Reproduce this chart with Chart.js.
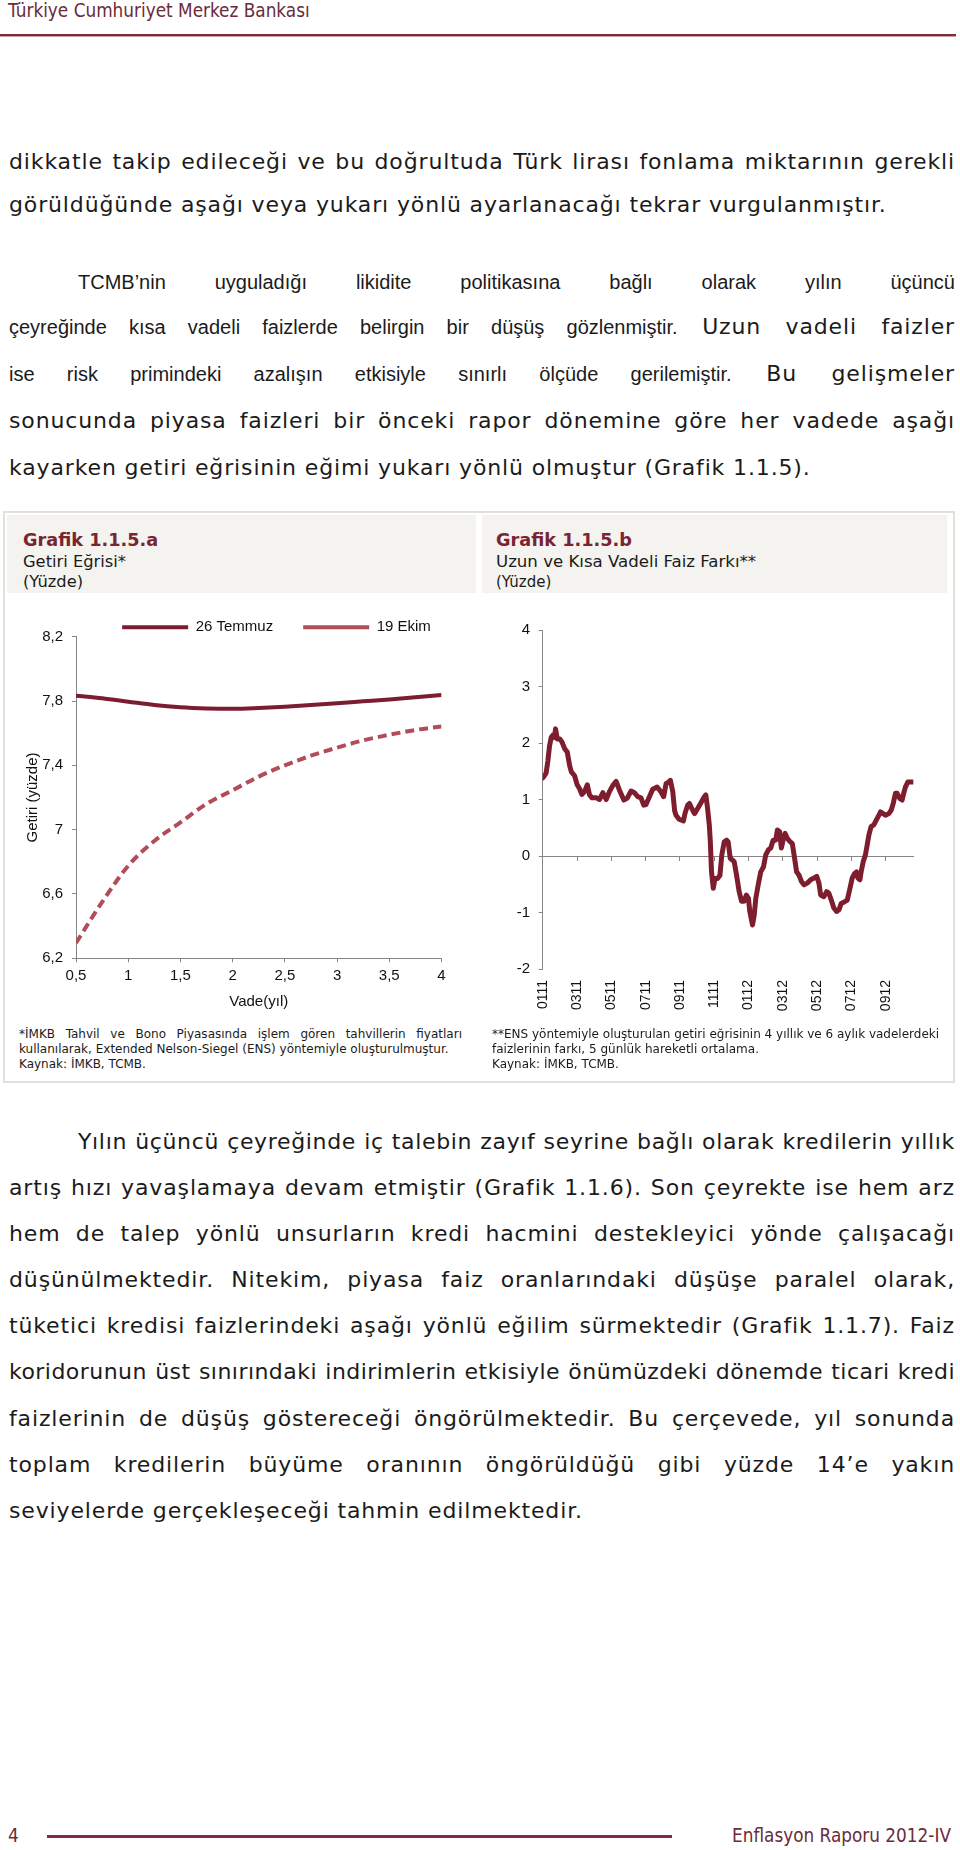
<!DOCTYPE html>
<html>
<head>
<meta charset="utf-8">
<script src="https://cdn.jsdelivr.net/npm/chart.js@4.4.1/dist/chart.umd.min.js"></script>
<style>
html,body{margin:0;padding:0;background:#fff;}
#page{position:relative;width:960px;height:1850px;overflow:hidden;font-family:"DejaVu Sans",sans-serif;color:#1b1b1b;}
.abs{position:absolute;}
.hdr{position:absolute;font-family:"DejaVu Sans Condensed","DejaVu Sans",sans-serif;font-size:18.8px;line-height:22px;color:#6a2c3b;white-space:nowrap;}
.hline{position:absolute;left:0;top:34px;width:956px;height:2px;background:#7a2d3c;box-shadow:0 1px 0 #c9a3aa;}
.ln{position:absolute;left:9px;width:946px;font-size:22px;letter-spacing:0.86px;line-height:30px;height:30px;overflow:hidden;}
.j{text-align:justify;text-align-last:justify;}
.ar{font-family:"Liberation Sans",Arial,sans-serif;font-size:20px;letter-spacing:0;}
.frame{position:absolute;left:3px;top:511px;width:948px;height:568px;border:2px solid #e1e0dc;}
.tbox{position:absolute;top:515px;height:78px;background:#f4f3ef;}
.tt{position:absolute;font-weight:bold;font-size:17.7px;line-height:20px;color:#7a2333;white-space:nowrap;}
.ts{position:absolute;font-size:16.3px;line-height:20px;color:#1b1b1b;white-space:nowrap;}
.fn{position:absolute;font-size:12px;line-height:15px;height:15px;overflow:hidden;color:#1b1b1b;}
canvas{position:absolute;}
.ftr{position:absolute;font-family:"DejaVu Sans Condensed","DejaVu Sans",sans-serif;font-size:18.8px;line-height:22px;color:#6a2c3b;white-space:nowrap;}
</style>
</head>
<body>
<div id="page">
  <div class="hdr" style="left:8px;top:0px;">Türkiye Cumhuriyet Merkez Bankası</div>
  <div class="hline"></div>

  <div class="ln j" style="top:147px;">dikkatle takip edileceği ve bu doğrultuda Türk lirası fonlama miktarının gerekli</div>
  <div class="ln" style="top:190px;">görüldüğünde aşağı veya yukarı yönlü ayarlanacağı tekrar vurgulanmıştır.</div>

  <div class="ln j ar" style="top:267px;left:78px;width:877px;">TCMB’nin uyguladığı likidite politikasına bağlı olarak yılın üçüncü</div>
  <div class="ln j" style="top:312px;"><span class="ar">çeyreğinde kısa vadeli faizlerde belirgin bir düşüş gözlenmiştir.</span> Uzun vadeli faizler</div>
  <div class="ln j" style="top:359px;"><span class="ar">ise risk primindeki azalışın etkisiyle sınırlı ölçüde gerilemiştir.</span> Bu gelişmeler</div>
  <div class="ln j" style="top:406px;">sonucunda piyasa faizleri bir önceki rapor dönemine göre her vadede aşağı</div>
  <div class="ln" style="top:453px;">kayarken getiri eğrisinin eğimi yukarı yönlü olmuştur (Grafik 1.1.5).</div>

  <div class="frame"></div>
  <div class="tbox" style="left:7px;width:469px;"></div>
  <div class="tbox" style="left:482px;width:465px;"></div>
  <div class="tt" style="left:23px;top:530px;">Grafik 1.1.5.a</div>
  <div class="ts" style="left:23px;top:552px;">Getiri Eğrisi*</div>
  <div class="ts" style="left:23px;top:572px;">(Yüzde)</div>
  <div class="tt" style="left:496px;top:530px;">Grafik 1.1.5.b</div>
  <div class="ts" style="left:496px;top:552px;font-size:16.6px;">Uzun ve Kısa Vadeli Faiz Farkı**</div>
  <div class="ts" style="left:496px;top:572px;font-size:15px;">(Yüzde)</div>

  <canvas id="c1" width="533" height="460" style="left:0;top:560px;"></canvas>
  <canvas id="c2" width="480" height="420" style="left:480px;top:600px;"></canvas>

  <div class="fn j" style="left:19px;width:443px;top:1027px;">*İMKB Tahvil ve Bono Piyasasında işlem gören tahvillerin fiyatları</div>
  <div class="fn" style="left:19px;width:443px;top:1042px;">kullanılarak, Extended Nelson-Siegel (ENS) yöntemiyle oluşturulmuştur.</div>
  <div class="fn" style="left:19px;width:443px;top:1057px;">Kaynak: İMKB, TCMB.</div>
  <div class="fn" style="left:492px;width:455px;top:1027px;">**ENS yöntemiyle oluşturulan getiri eğrisinin 4 yıllık ve 6 aylık vadelerdeki</div>
  <div class="fn" style="left:492px;width:455px;top:1042px;">faizlerinin farkı, 5 günlük hareketli ortalama.</div>
  <div class="fn" style="left:492px;width:455px;top:1057px;">Kaynak: İMKB, TCMB.</div>

  <div class="ln j" style="top:1127px;left:78px;width:877px;">Yılın üçüncü çeyreğinde iç talebin zayıf seyrine bağlı olarak kredilerin yıllık</div>
  <div class="ln j" style="top:1173px;">artış hızı yavaşlamaya devam etmiştir (Grafik 1.1.6). Son çeyrekte ise hem arz</div>
  <div class="ln j" style="top:1219px;">hem de talep yönlü unsurların kredi hacmini destekleyici yönde çalışacağı</div>
  <div class="ln j" style="top:1265px;">düşünülmektedir. Nitekim, piyasa faiz oranlarındaki düşüşe paralel olarak,</div>
  <div class="ln j" style="top:1311px;">tüketici kredisi faizlerindeki aşağı yönlü eğilim sürmektedir (Grafik 1.1.7). Faiz</div>
  <div class="ln j" style="top:1357px;">koridorunun üst sınırındaki indirimlerin etkisiyle önümüzdeki dönemde ticari kredi</div>
  <div class="ln j" style="top:1404px;">faizlerinin de düşüş göstereceği öngörülmektedir. Bu çerçevede, yıl sonunda</div>
  <div class="ln j" style="top:1450px;">toplam kredilerin büyüme oranının öngörüldüğü gibi yüzde 14’e yakın</div>
  <div class="ln" style="top:1496px;">seviyelerde gerçekleşeceği tahmin edilmektedir.</div>

  <div class="ftr" style="left:8px;top:1825px;">4</div>
  <div class="abs" style="left:47px;top:1835px;width:625px;height:3px;background:#7a2d3c;"></div>
  <div class="ftr" style="right:9px;top:1825px;">Enflasyon Raporu 2012-IV</div>
</div>

<script>
// ---------- Grafik 1.1.5.a : yield curves ----------
const maturities   = [0.5, 0.75, 1, 1.25, 1.5, 1.75, 2, 2.25, 2.5, 2.75, 3, 3.25, 3.5, 3.75, 4];
const yieldJul26   = [7.833, 7.817, 7.796, 7.775, 7.761, 7.754, 7.752, 7.757, 7.765, 7.775, 7.786, 7.798, 7.810, 7.823, 7.837];
const yieldOct19   = [6.295, 6.55, 6.775, 6.93, 7.045, 7.16, 7.245, 7.33, 7.40, 7.46, 7.51, 7.555, 7.59, 7.62, 7.642];
const curveXTicks  = [0.5, 1, 1.5, 2, 2.5, 3, 3.5, 4];
const curveXLabels = ['0,5', '1', '1,5', '2', '2,5', '3', '3,5', '4'];
const curveYTicks  = [6.2, 6.6, 7.0, 7.4, 7.8, 8.2];
const curveYLabels = ['6,2', '6,6', '7', '7,4', '7,8', '8,2'];

// ---------- Grafik 1.1.5.b : long-short spread (months since Jan 2011) ----------
const spreadMonths = [0.0,0.1,0.2,0.3,0.4,0.5,0.6,0.68,0.75,0.85,1.0,1.12,1.28,1.43,1.57,1.67,1.86,2.01,2.15,2.28,2.44,2.6,2.73,2.87,3.12,3.31,3.51,3.7,3.89,4.09,4.28,4.48,4.73,4.92,5.15,5.35,5.54,5.73,5.89,6.02,6.22,6.41,6.67,6.86,7.05,7.19,7.34,7.44,7.58,7.69,7.77,7.95,8.2,8.3,8.45,8.55,8.74,8.85,9.03,9.2,9.42,9.51,9.61,9.71,9.77,9.84,9.94,10.04,10.19,10.33,10.44,10.58,10.72,10.81,10.93,11.05,11.16,11.3,11.45,11.59,11.74,11.87,11.99,12.07,12.23,12.33,12.42,12.56,12.71,12.87,13.0,13.16,13.29,13.43,13.58,13.68,13.81,13.91,14.01,14.13,14.26,14.4,14.55,14.65,14.8,14.94,15.08,15.23,15.42,15.62,15.81,15.97,16.1,16.2,16.39,16.55,16.68,16.82,16.97,17.13,17.27,17.4,17.6,17.75,17.91,18.04,18.18,18.29,18.37,18.49,18.56,18.68,18.81,18.91,19.01,19.14,19.3,19.45,19.59,19.69,19.84,19.98,20.17,20.31,20.43,20.56,20.66,20.81,20.95,21.04,21.14,21.28,21.47,21.59];
const spreadValues = [1.38,1.42,1.47,1.68,1.95,2.10,2.14,2.10,2.25,2.07,2.07,2.02,1.90,1.84,1.60,1.49,1.42,1.26,1.19,1.09,1.14,1.26,1.08,1.03,1.03,1.00,1.12,1.00,1.14,1.25,1.32,1.16,0.99,1.02,1.15,1.12,1.05,1.03,0.90,0.91,1.05,1.18,1.22,1.15,1.05,1.28,1.31,1.34,1.14,0.80,0.72,0.65,0.62,0.76,0.90,0.93,0.81,0.75,0.84,0.93,1.05,1.08,0.84,0.55,0.25,-0.28,-0.57,-0.40,-0.40,-0.34,0.02,0.25,0.28,0.25,-0.04,-0.07,-0.10,-0.34,-0.63,-0.80,-0.80,-0.69,-0.75,-0.98,-1.22,-1.04,-0.75,-0.51,-0.28,-0.19,0.02,0.11,0.14,0.28,0.28,0.46,0.43,0.14,0.28,0.40,0.31,0.26,0.22,0.02,-0.28,-0.34,-0.45,-0.51,-0.48,-0.42,-0.39,-0.36,-0.48,-0.69,-0.72,-0.63,-0.66,-0.78,-0.92,-0.98,-0.95,-0.84,-0.81,-0.78,-0.57,-0.39,-0.31,-0.28,-0.39,-0.42,-0.28,-0.10,0.02,0.19,0.37,0.52,0.55,0.64,0.72,0.78,0.75,0.72,0.75,0.81,0.93,1.11,1.11,1.02,0.99,1.11,1.22,1.31,1.31,1.31];
const spreadTickMonths = [0, 2, 4, 6, 8, 10, 12, 14, 16, 18, 20];
const spreadTickLabels = ['0111','0311','0511','0711','0911','1111','0112','0312','0512','0712','0912'];
const spreadYTicks  = [-2, -1, 0, 1, 2, 3, 4];
const spreadYLabels = ['-2', '-1', '0', '1', '2', '3', '4'];

Chart.defaults.font.family = "'Liberation Sans', Arial, sans-serif";
Chart.defaults.font.size = 15;
Chart.defaults.color = '#111';
const AXIS = '#868686';

new Chart(document.getElementById('c1'), {
  type: 'line',
  data: {
    datasets: [
      { label: '26 Temmuz', data: maturities.map((m, i) => ({ x: m, y: yieldJul26[i] })),
        borderColor: '#7a1d30', backgroundColor: '#7a1d30', borderWidth: 4, pointRadius: 0,
        cubicInterpolationMode: 'monotone' },
      { label: '19 Ekim', data: maturities.map((m, i) => ({ x: m, y: yieldOct19[i] })),
        borderColor: '#b24c58', backgroundColor: '#b24c58', borderWidth: 4, borderDash: [9, 5], pointRadius: 0,
        cubicInterpolationMode: 'monotone' }
    ]
  },
  options: {
    responsive: false, animation: false,
    layout: { padding: { left: 20, right: 0, top: 29.8, bottom: 5.3 } },
    plugins: {
      tooltip: { enabled: false },
      legend: {
        display: true, position: 'top', maxHeight: 46.9,
        labels: { usePointStyle: true, pointStyle: 'line', pointStyleWidth: 66, padding: 30, color: '#111', font: { size: 15 } }
      }
    },
    scales: {
      x: {
        type: 'linear', min: 0.5, max: 4,
        afterBuildTicks: s => { s.ticks = curveXTicks.map(v => ({ value: v })); },
        ticks: { callback: (v, i) => curveXLabels[i], padding: 5, maxRotation: 0, autoSkip: false },
        grid: { display: true, drawOnChartArea: false, drawTicks: true, tickLength: 4, color: AXIS },
        border: { display: true, color: AXIS, width: 1 },
        title: { display: true, text: 'Vade(yıl)', color: '#111', font: { size: 15 }, padding: { top: 4, bottom: 4 } },
        afterFit: s => { s.height = 56.4; }
      },
      y: {
        type: 'linear', min: 6.2, max: 8.2,
        afterBuildTicks: s => { s.ticks = curveYTicks.map(v => ({ value: v })); },
        ticks: { callback: (v, i) => curveYLabels[i], padding: 9, autoSkip: false },
        grid: { display: true, drawOnChartArea: false, drawTicks: true, tickLength: 4, color: AXIS },
        border: { display: true, color: AXIS, width: 1 },
        title: { display: true, text: 'Getiri (yüzde)', color: '#111', font: { size: 15 }, padding: { top: 4, bottom: 4 } },
        afterFit: s => { s.width = 56; }
      },
      yPad: {
        type: 'linear', position: 'right', display: true,
        grid: { display: false, drawTicks: false }, ticks: { display: false }, border: { display: false },
        afterFit: s => { s.width = 91.5; }
      }
    }
  }
});

new Chart(document.getElementById('c2'), {
  type: 'line',
  data: {
    datasets: [
      { label: 'Uzun ve Kısa Vadeli Faiz Farkı', data: spreadMonths.map((m, i) => ({ x: m, y: spreadValues[i] })),
        borderColor: '#7d1d2e', backgroundColor: '#7d1d2e', borderWidth: 5, pointRadius: 0, tension: 0,
        borderJoinStyle: 'round', borderCapStyle: 'round' }
    ]
  },
  options: {
    responsive: false, animation: false,
    layout: { padding: { left: 10, right: 46.7, top: 30, bottom: 0 } },
    plugins: { legend: { display: false }, tooltip: { enabled: false } },
    scales: {
      x: {
        type: 'linear', position: { y: 0 }, min: 0, max: 21.6,
        afterBuildTicks: s => { s.ticks = spreadTickMonths.map(v => ({ value: v })); },
        ticks: { display: false },
        grid: { display: true, drawOnChartArea: false, drawTicks: true, tickLength: 4, color: AXIS },
        border: { display: true, color: AXIS, width: 1 }
      },
      xl: {
        type: 'linear', position: 'bottom', min: 0, max: 21.6,
        afterBuildTicks: s => { s.ticks = spreadTickMonths.map(v => ({ value: v })); },
        ticks: { callback: (v, i) => spreadTickLabels[i], font: { size: 14 }, minRotation: 90, maxRotation: 90, autoSkip: false, padding: 11 },
        grid: { display: false, drawTicks: false }, border: { display: false },
        afterFit: s => { s.height = 51; }
      },
      y: {
        type: 'linear', min: -2, max: 4,
        afterBuildTicks: s => { s.ticks = spreadYTicks.map(v => ({ value: v })); },
        ticks: { callback: (v, i) => spreadYLabels[i], padding: 8.7, autoSkip: false },
        grid: { display: true, drawOnChartArea: false, drawTicks: true, tickLength: 4, color: AXIS },
        border: { display: true, color: AXIS, width: 1 },
        afterFit: s => { s.width = 52.7; }
      }
    }
  }
});

// keep each justified line on one row
document.querySelectorAll('.j').forEach(el => {
  let ls = parseFloat(getComputedStyle(el).letterSpacing) || 0;
  let guard = 0;
  while (el.scrollHeight > el.clientHeight + 1 && guard < 40) {
    ls -= 0.1; guard++;
    el.style.letterSpacing = ls.toFixed(2) + 'px';
  }
});
</script>
</body>
</html>
